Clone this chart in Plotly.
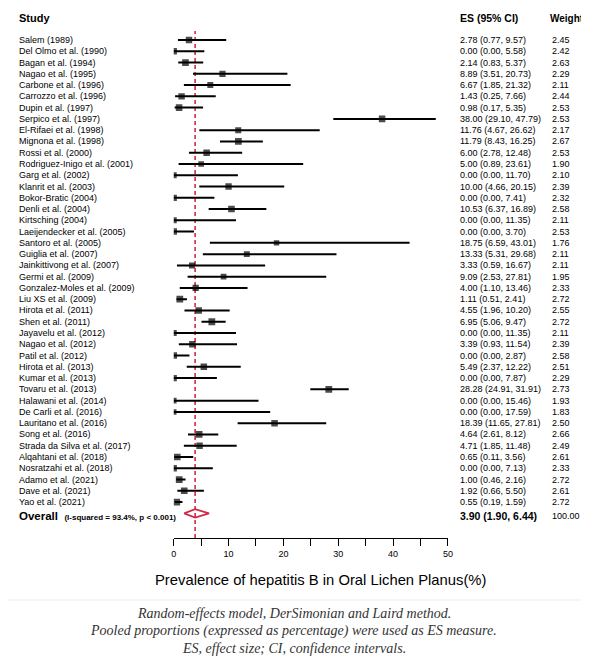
import plotly.graph_objects as go

studies = ["Salem (1989)", "Del Olmo et al. (1990)", "Bagan et al. (1994)", "Nagao et al. (1995)",
           "Carbone et al. (1996)", "Carrozzo et al. (1996)", "Dupin et al. (1997)", "Serpico et al. (1997)",
           "El-Rifaei et al. (1998)", "Mignona et al. (1998)", "Rossi et al. (2000)",
           "Rodriguez-Inigo et al. (2001)", "Garg et al. (2002)", "Klanrit et al. (2003)",
           "Bokor-Bratic (2004)", "Denli et al. (2004)", "Kirtsching (2004)", "Laeijendecker et al. (2005)",
           "Santoro et al. (2005)", "Guiglia et al. (2007)", "Jainkittivong et al. (2007)",
           "Germi et al. (2009)", "Gonzalez-Moles et al. (2009)", "Liu XS et al. (2009)",
           "Hirota et al. (2011)", "Shen et al. (2011)", "Jayavelu et al. (2012)", "Nagao et al. (2012)",
           "Patil et al. (2012)", "Hirota et al. (2013)", "Kumar et al. (2013)", "Tovaru et al. (2013)",
           "Halawani et al. (2014)", "De Carli et al. (2016)", "Lauritano et al. (2016)",
           "Song et al. (2016)", "Strada da Silva et al. (2017)", "Alqahtani et al. (2018)",
           "Nosratzahi et al. (2018)", "Adamo et al. (2021)", "Dave et al. (2021)", "Yao et al. (2021)"]
es = [2.78, 0.00, 2.14, 8.89, 6.67, 1.43, 0.98, 38.00, 11.76, 11.79, 6.00, 5.00, 0.00, 10.00,
      0.00, 10.53, 0.00, 0.00, 18.75, 13.33, 3.33, 9.09, 4.00, 1.11, 4.55, 6.95, 0.00, 3.39,
      0.00, 5.49, 0.00, 28.28, 0.00, 0.00, 18.39, 4.64, 4.71, 0.65, 0.00, 1.00, 1.92, 0.55]
lo = [0.77, 0.00, 0.83, 3.51, 1.85, 0.25, 0.17, 29.10, 4.67, 8.43, 2.78, 0.89, 0.00, 4.66,
      0.00, 6.37, 0.00, 0.00, 6.59, 5.31, 0.59, 2.53, 1.10, 0.51, 1.96, 5.06, 0.00, 0.93,
      0.00, 2.37, 0.00, 24.91, 0.00, 0.00, 11.65, 2.61, 1.85, 0.11, 0.00, 0.46, 0.66, 0.19]
hi = [9.57, 5.58, 5.37, 20.73, 21.32, 7.66, 5.35, 47.79, 26.62, 16.25, 12.48, 23.61, 11.70, 20.15,
      7.41, 16.89, 11.35, 3.70, 43.01, 29.68, 16.67, 27.81, 13.46, 2.41, 10.20, 9.47, 11.35, 11.54,
      2.87, 12.22, 7.87, 31.91, 15.46, 17.59, 27.81, 8.12, 11.48, 3.56, 7.13, 2.16, 5.50, 1.59]
weight = [2.45, 2.42, 2.63, 2.29, 2.11, 2.44, 2.53, 2.53, 2.17, 2.67, 2.53, 1.90, 2.10, 2.39,
          2.32, 2.58, 2.11, 2.53, 1.76, 2.11, 2.11, 1.95, 2.33, 2.72, 2.55, 2.72, 2.11, 2.39,
          2.58, 2.51, 2.29, 2.73, 1.93, 1.83, 2.50, 2.66, 2.49, 2.61, 2.33, 2.72, 2.61, 2.72]
overall_es, overall_lo, overall_hi = 3.90, 1.90, 6.44
overall_label = "Overall"
overall_het = "(I-squared = 93.4%, p < 0.001)"
tick_values = [0, 5, 10, 15, 20, 25, 30, 35, 40, 45, 50]
tick_labels = ["0", "", "10", "", "20", "", "30", "", "40", "", "50"]
x_title = "Prevalence of hepatitis B in Oral Lichen Planus(%)"
captions = ["Random-effects model, DerSimonian and Laird method.",
            "Pooled proportions (expressed as percentage) were used as ES measure.",
            "ES, effect size; CI, confidence intervals."]

# page body has an 8px margin: the figure is drawn at (8, 8) in the window
OFF = 8
W, H = 589 - OFF, 657 - OFF
row0_px, row_step = 40.0 - OFF, 11.27
rows = list(range(1, len(studies) + 1))
overall_row = len(studies) + 1
y_top = 1 - row0_px / row_step
y_bot = 1 + (H - row0_px) / row_step

def px(xr):
    return (xr - OFF) / W

def py(yr):
    return 1 - (yr - OFF) / H

def row_of(yr):
    return 1 + ((yr - OFF) - row0_px) / row_step

SANS = "Liberation Sans, Arial, Helvetica, sans-serif"
SERIF = "Liberation Serif, Times New Roman, serif"
RED = "#d22a46"

fig = go.Figure()
for r, l, h in zip(rows, lo, hi):
    fig.add_trace(go.Scatter(x=[l, h], y=[r, r], mode="lines",
                             line=dict(color="black", width=2), showlegend=False, hoverinfo="skip"))
fig.add_trace(go.Scatter(x=es, y=rows, mode="markers",
                         marker=dict(symbol="square", color="black",
                                     size=[6.8 * (w / 2.73) ** 0.5 for w in weight], line=dict(width=0)),
                         showlegend=False, hoverinfo="skip"))
dh = 0.37
fig.add_trace(go.Scatter(x=[overall_lo, overall_es, overall_hi, overall_es, overall_lo],
                         y=[overall_row, overall_row - dh, overall_row, overall_row + dh, overall_row],
                         mode="lines", line=dict(color=RED, width=1.8), showlegend=False, hoverinfo="skip"))

fig.add_shape(type="line", xref="x", yref="paper", x0=overall_es, x1=overall_es,
              y0=py(538), y1=py(31), line=dict(color=RED, width=1.6, dash="4px,3px"), layer="below")
fig.add_shape(type="rect", xref="paper", yref="paper", x0=-0.02, x1=1.02, y0=py(600), y1=1.05,
              line=dict(color="#ececec", width=1), layer="below")

ann = []
def txt(x_ref, y, s, size=9, bold=False, yref="y", font=SANS, anchor="left", color="black", italic=False):
    if bold:
        s = "<b>" + s + "</b>"
    if italic:
        s = "<i>" + s + "</i>"
    ann.append(dict(x=px(x_ref), xref="paper", y=y, yref=yref, text=s, showarrow=False,
                    xanchor=anchor, yanchor="middle", font=dict(size=size, family=font, color=color)))

header_row = row_of(18)
txt(14, header_row, "Study", size=11, bold=True)
txt(461, header_row, "ES (95% CI)", size=10.5, bold=True)
txt(552, header_row, "Weight %", size=10, bold=True)
for r, s, e, l, h, w in zip(rows, studies, es, lo, hi, weight):
    txt(14, r, s, size=9)
    txt(461, r, f"{e:.2f} ({l:.2f}, {h:.2f})", size=9)
    txt(555, r, f"{w:.2f}", size=9)
ov = overall_row + 0.25
ann.append(dict(x=px(14), xref="paper", y=ov, yref="y",
                text="<b>" + overall_label + "</b>  <b><span style='font-size:8px'>" + overall_het + "</span></b>",
                showarrow=False, xanchor="left", yanchor="middle",
                font=dict(size=11.5, family=SANS, color="black")))
txt(461, ov, f"{overall_es:.2f} ({overall_lo:.2f}, {overall_hi:.2f})", size=10.5, bold=True)
txt(555, ov, "100.00", size=9)

txt(322, py(580), x_title, size=14.8, yref="paper", anchor="center")
for i, c in enumerate(captions):
    txt(294.5, py(613 + i * 17.5), c, size=14, yref="paper", font=SERIF, anchor="center",
        italic=True, color="#333333")

fig.update_layout(
    width=W, height=H, margin=dict(l=0, r=0, t=0, b=0),
    paper_bgcolor="white", plot_bgcolor="rgba(0,0,0,0)",
    annotations=ann,
    xaxis=dict(domain=[px(173), px(451)], range=[0, 50], anchor="free", position=py(538),
               showline=True, linecolor="black", linewidth=1.2, ticks="outside", ticklen=7,
               tickwidth=1.2, tickcolor="black", tickvals=tick_values, ticktext=tick_labels,
               tickfont=dict(size=9, family=SANS, color="black"), showgrid=False, zeroline=False),
    yaxis=dict(domain=[0, 1], range=[y_bot, y_top], visible=False, showgrid=False, zeroline=False),
)
fig.write_html("out.html")
